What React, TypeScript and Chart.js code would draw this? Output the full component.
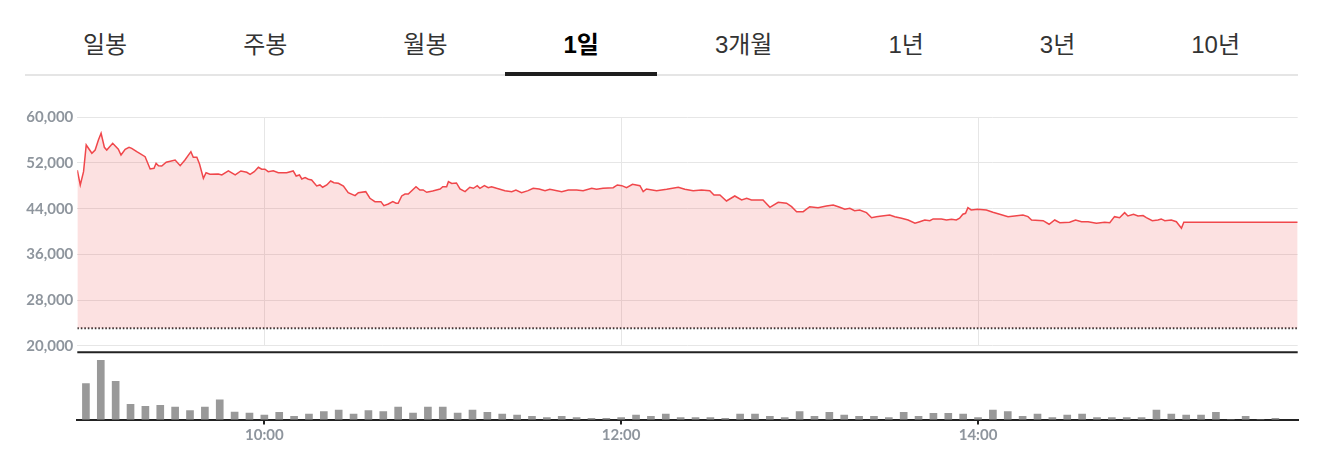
import React, { useEffect, useRef } from 'react';
import { Chart, registerables } from 'chart.js';

Chart.register(...registerables);

// ---------- data ----------
const tabs = ['일봉', '주봉', '월봉', '1일', '3개월', '1년', '3년', '10년'];
const activeTab = '1일';

const yTickValues = [20000, 28000, 36000, 44000, 52000, 60000];
const timeTicks = ['10:00', '12:00', '14:00'];
const lowerLimitPrice = 23060;

// minutes after 09:00
const priceMinutes = [
  -2.9, -1.9, -0.8, 0.1, 2.0, 3.1, 4.2, 5.1, 6.2, 7.0, 9.0, 10.9, 11.8, 13.2, 14.5, 15.4, 17.1, 19.9,
  21.6, 22.9, 23.6, 24.4, 25.5, 27.0, 30.0, 31.7, 33.3, 35.3, 36.1, 37.3, 38.2, 39.5, 40.4, 41.7,
  44.5, 45.7, 47.9, 50.2, 52.1, 54.1, 55.2, 56.6, 58.0, 59.1, 60.2, 61.3, 63.0, 64.7, 67.5, 69.7,
  70.7, 71.8, 72.6, 73.7, 74.8, 75.9, 77.6, 78.7, 79.6, 81.0, 82.3, 83.4, 84.9, 86.6, 88.2, 90.5,
  91.6, 94.1, 95.5, 97.2, 99.2, 100.2, 101.7, 103.2, 104.3, 105.0, 106.2, 107.3, 108.4, 111.0,
  112.3, 113.4, 114.6, 116.6, 119.1, 120.0, 121.3, 121.9, 123.0, 124.6, 125.8, 127.5, 129.1, 130.3,
  131.6, 132.5, 134.0, 135.3, 136.4, 138.1, 140.9, 143.2, 144.6, 146.5, 148.7, 150.4, 152.4, 154.4,
  156.0, 160.0, 162.2, 165.0, 167.2, 170.1, 171.7, 173.9, 177.3, 178.7, 180.2, 181.8, 183.8, 186.3,
  187.4, 188.5, 191.9, 195.3, 199.2, 201.4, 204.2, 207.0, 209.8, 211.2, 213.2, 215.4, 218.2, 220.5,
  222.2, 223.8, 227.7, 230.0, 232.8, 235.6, 237.3, 239.0, 241.2, 243.4, 246.2, 249.0, 251.3, 253.5,
  255.2, 256.9, 258.5, 260.2, 262.5, 264.2, 265.8, 267.0, 270.3, 272.0, 274.3, 276.5, 278.8, 280.4,
  282.1, 283.8, 284.9, 287.7, 289.4, 291.1, 292.7, 293.8, 294.9, 295.8, 296.6, 297.7, 299.9, 302.8,
  305.0, 307.3, 310.1, 312.3, 315.1, 316.8, 318.0, 321.9, 323.9, 325.8, 327.5, 330.8, 332.8, 334.8,
  337.0, 339.8, 342.6, 344.3, 345.9, 347.6, 349.3, 350.4, 352.3, 353.8, 355.5, 356.6, 358.6, 360.5,
  361.6, 362.8, 365.0, 366.7, 368.4, 369.2, 407.5,
];

const prices = [
  50750, 48150, 50480, 55150, 53700, 54270, 56020, 57200, 54750, 54270, 55450, 54400, 53400, 54400, 54750, 54570, 53980, 53100,
  50950, 51070, 51950, 51530, 51470, 52120, 52520, 51530, 52520, 53980, 53000, 53000, 51820, 49320, 50300, 50020,
  50070, 49900, 50600, 49900, 50600, 50370, 50020, 50480, 51250, 50900, 50900, 50480, 50650, 50300, 50300, 50600,
  49720, 49900, 49200, 49430, 49150, 49020, 47970, 48150, 47750, 48150, 48850, 48550, 48450, 47970, 46800, 46280,
  46800, 46980, 45820, 45230, 45230, 44520, 44820, 45230, 44950, 44950, 46220, 46570, 46570, 47850,
  47270, 47270, 46870, 47100, 47450, 47850, 47850, 48730, 48410, 48500, 47450, 46980, 47750, 47570,
  48030, 47570, 48030, 47680, 47850, 47570, 47150, 46980, 47270, 46800, 47150, 47570, 47450, 47150,
  47400, 46980, 47270, 47270, 47150, 47570, 47400, 47570, 47680, 48150, 48030, 47680, 48270, 48030,
  46980, 47450, 47150, 47400, 47750, 47400, 47150, 47270, 47150, 46400, 46400, 45350, 46220, 45520,
  45820, 45520, 45520, 44240, 45120, 44950, 44350, 43470, 43470, 44350, 44170, 44470, 44650, 44240,
  43890, 44070, 43650, 43770, 43300, 42420, 42600, 42670, 42900, 42600, 42320, 42020, 41440, 41720,
  42020, 41900, 42200, 42200, 42020, 42140, 42020, 42320, 43020, 43190, 44170, 43770, 43890, 43770,
  43370, 43020, 42600, 42720, 42900, 42600, 42020, 41900, 41270, 42020, 41550, 41620, 42020, 41720,
  41720, 41440, 41620, 41550, 42600, 42420, 43300, 42720, 43020, 42720, 42780, 42420, 41900, 42020,
  42200, 41900, 42020, 41720, 40570, 41620, 41620,
];

const volumeTimes = [
  '09:00', '09:05', '09:10', '09:15', '09:20', '09:25', '09:30', '09:35', '09:40', '09:45', '09:50', '09:55',
  '10:00', '10:05', '10:10', '10:15', '10:20', '10:25', '10:30', '10:35', '10:40', '10:45', '10:50', '10:55',
  '11:00', '11:05', '11:10', '11:15', '11:20', '11:25', '11:30', '11:35', '11:40', '11:45', '11:50', '11:55',
  '12:00', '12:05', '12:10', '12:15', '12:20', '12:25', '12:30', '12:35', '12:40', '12:45', '12:50', '12:55',
  '13:00', '13:05', '13:10', '13:15', '13:20', '13:25', '13:30', '13:35', '13:40', '13:45', '13:50', '13:55',
  '14:00', '14:05', '14:10', '14:15', '14:20', '14:25', '14:30', '14:35', '14:40', '14:45', '14:50', '14:55',
  '15:00', '15:05', '15:10', '15:15', '15:20', '15:25', '15:30', '15:35', '15:40',
];

const volumes = [
  350, 577, 373, 150, 130, 140, 123, 87, 123, 193, 73, 63,
  43, 70, 33, 53, 77, 93, 53, 87, 77, 123, 63, 123,
  123, 63, 93, 70, 53, 43, 33, 20, 33, 20, 13, 13,
  20, 43, 33, 53, 20, 20, 20, 13, 53, 53, 33, 20,
  77, 33, 70, 43, 33, 33, 20, 70, 33, 60, 60, 53,
  20, 93, 77, 33, 53, 20, 43, 53, 20, 20, 20, 20,
  93, 53, 43, 43, 70, 0, 33, 0, 13,
];

// ---------- helpers ----------
const X_MIN = -2.9;
const X_MAX = 407.5;
const toMin = (t: string) => {
  const [h, m] = t.split(':').map(Number);
  return (h - 9) * 60 + m;
};
const fmtMin = (v: number) => {
  const total = 9 * 60 + Math.round(v);
  const h = Math.floor(total / 60);
  const m = total % 60;
  return `${String(h).padStart(2, '0')}:${String(m).padStart(2, '0')}`;
};

const LABEL_COLOR = '#8e959d';
const GRID_COLOR = '#e6e6e6';
const PLOT_LEFT = 77.3;
const PLOT_RIGHT_PAD = 25.3;
const LABEL_FONT = { family: 'Lato', size: 15, weight: 'bold' };

const topLinePlugin = {
  id: 'topLine',
  afterDraw(chart: any) {
    const { ctx, chartArea } = chart;
    ctx.save();
    ctx.strokeStyle = '#222';
    ctx.lineWidth = 2;
    ctx.beginPath();
    ctx.moveTo(chartArea.left, chartArea.top);
    ctx.lineTo(chartArea.right, chartArea.top);
    ctx.stroke();
    ctx.restore();
  },
};

export default function App() {
  const priceRef = useRef<HTMLCanvasElement>(null);
  const volRef = useRef<HTMLCanvasElement>(null);

  useEffect(() => {
    document.body.style.margin = '0';
    const priceChart = new Chart(priceRef.current as HTMLCanvasElement, {
      type: 'line',
      data: {
        datasets: [
          {
            data: priceMinutes.map((m, i) => ({ x: m, y: prices[i] })),
            borderColor: '#f0474b',
            borderWidth: 1.5,
            pointRadius: 0,
            tension: 0,
            fill: { value: lowerLimitPrice },
            backgroundColor: 'rgba(239,68,68,0.16)',
          },
          {
            data: [
              { x: X_MIN, y: lowerLimitPrice },
              { x: X_MAX, y: lowerLimitPrice },
            ],
            borderColor: '#333',
            borderWidth: 2,
            borderDash: [1.6, 1.9],
            pointRadius: 0,
            fill: false,
          },
        ],
      },
      options: {
        animation: false,
        responsive: false,
        maintainAspectRatio: false,
        layout: { padding: { left: 0, right: PLOT_RIGHT_PAD, top: 17.3, bottom: 14.3 } },
        plugins: { legend: { display: false }, tooltip: { enabled: false } },
        scales: {
          x: {
            type: 'linear',
            min: X_MIN,
            max: X_MAX,
            afterBuildTicks: (s: any) => {
              s.ticks = timeTicks.map((t) => ({ value: toMin(t) }));
            },
            ticks: { display: false },
            grid: { color: GRID_COLOR, drawTicks: false, lineWidth: 1 },
            border: { display: false },
          },
          y: {
            min: 20000,
            max: 60000,
            afterBuildTicks: (s: any) => {
              s.ticks = yTickValues.map((v) => ({ value: v }));
            },
            afterFit: (s: any) => {
              s.width = PLOT_LEFT;
            },
            ticks: {
              color: LABEL_COLOR,
              font: LABEL_FONT,
              padding: 4,
              callback: (v: any) => Number(v).toLocaleString('en-US'),
            },
            grid: { color: GRID_COLOR, drawTicks: false },
            border: { display: false },
          },
        },
      } as any,
    });

    const volChart = new Chart(volRef.current as HTMLCanvasElement, {
      type: 'bar',
      data: {
        datasets: [
          {
            data: volumeTimes.map((t, i) => ({ x: toMin(t), y: volumes[i] })),
            backgroundColor: '#999999',
            borderWidth: 0,
            barThickness: 7,
          },
        ],
      },
      options: {
        animation: false,
        responsive: false,
        maintainAspectRatio: false,
        layout: { padding: { left: PLOT_LEFT, right: PLOT_RIGHT_PAD, top: 12.3, bottom: 10.4 } },
        plugins: { legend: { display: false }, tooltip: { enabled: false } },
        scales: {
          x: {
            type: 'linear',
            min: X_MIN,
            max: X_MAX,
            offset: false,
            afterBuildTicks: (s: any) => {
              s.ticks = timeTicks.map((t) => ({ value: toMin(t) }));
            },
            ticks: {
              color: LABEL_COLOR,
              font: LABEL_FONT,
              padding: 2,
              maxRotation: 0,
              autoSkip: false,
              callback: (v: any) => fmtMin(Number(v)),
            },
            grid: {
              drawOnChartArea: false,
              drawTicks: true,
              tickLength: 5,
              color: '#222',
              lineWidth: 2,
              offset: false,
            },
            border: { display: true, color: '#222', width: 2 },
          },
          y: { display: false, min: 0, max: 656 },
        },
      } as any,
      plugins: [topLinePlugin],
    });

    return () => {
      priceChart.destroy();
      volChart.destroy();
    };
  }, []);

  return (
    <div style={{ position: 'relative', width: 1323, height: 457, background: '#fff', overflow: 'hidden' }}>
      <div
        style={{
          position: 'absolute',
          left: 25,
          top: 0,
          width: 1273,
          height: 76,
          display: 'flex',
          boxSizing: 'border-box',
          borderBottom: '2px solid #e5e5e5',
          fontFamily: '"Liberation Sans", Arial, "Noto Sans CJK KR", sans-serif',
        }}
      >
        {tabs.map((t) => {
          const active = t === activeTab;
          return (
            <div
              key={t}
              style={{
                flex: '1 1 auto',
                position: 'relative',
                textAlign: 'center',
                fontSize: 24,
                lineHeight: '30px',
                paddingTop: 30,
                boxSizing: 'border-box',
                height: 74,
                color: active ? '#000' : '#333',
                fontWeight: active ? 'bold' : 'normal',
                whiteSpace: 'nowrap',
              }}
            >
              {t}
              {active && (
                <div
                  style={{
                    position: 'absolute',
                    left: 0,
                    right: 0,
                    bottom: -2,
                    height: 4,
                    background: '#1e1e1e',
                  }}
                />
              )}
            </div>
          );
        })}
      </div>
      <canvas
        ref={priceRef}
        width={1323}
        height={260}
        style={{ position: 'absolute', left: 0, top: 100, width: 1323, height: 260 }}
      />
      <canvas
        ref={volRef}
        width={1323}
        height={117}
        style={{ position: 'absolute', left: 0, top: 340, width: 1323, height: 117 }}
      />
    </div>
  );
}
